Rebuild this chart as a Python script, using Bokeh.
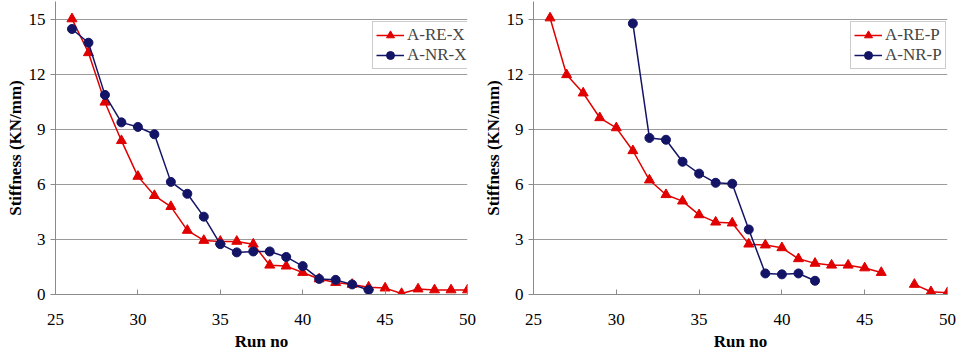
from bokeh.plotting import figure
from bokeh.layouts import row
from bokeh.models import Legend, LegendItem, FixedTicker
from bokeh.embed import file_html
from bokeh.resources import INLINE

nan = float("nan")

# Left chart
run_x = list(range(26, 51))
a_re_x = [15.05, 13.2, 10.5, 8.4, 6.45, 5.4, 4.8, 3.5, 2.95, 2.9, 2.9, 2.75, 1.6, 1.55,
          1.2, 0.85, 0.65, 0.55, 0.4, 0.35, 0.05, 0.3, 0.25, 0.25, 0.25]
run_nr_x = list(range(26, 45))
a_nr_x = [14.5, 13.75, 10.9, 9.4, 9.15, 8.75, 6.15, 5.5, 4.25, 2.75, 2.3, 2.35, 2.35,
          2.05, 1.55, 0.85, 0.8, 0.55, 0.25]

# Right chart
run_p = list(range(26, 51))
a_re_p = [15.1, 12.0, 11.0, 9.65, 9.1, 7.85, 6.25, 5.45, 5.1, 4.35, 3.95, 3.9, 2.75, 2.7,
          2.55, 1.95, 1.7, 1.6, 1.6, 1.45, 1.2, nan, 0.55, 0.15, 0.1]
run_nr_p = list(range(31, 43))
a_nr_p = [14.8, 8.55, 8.45, 7.25, 6.6, 6.1, 6.05, 3.55, 1.15, 1.1, 1.15, 0.75]

x_ticks = [25, 30, 35, 40, 45, 50]
y_ticks = [0, 3, 6, 9, 12, 15]

RED = "#E00000"
NAVY = "#141466"
FONT = "Liberation Serif"


def make_chart(xr, yr, xn, yn, lab_r, lab_n, width, border_right):
    p = figure(width=width, height=353, x_range=(25, 50), y_range=(0, 16),
               output_backend="svg", toolbar_location=None,
               min_border_left=55, min_border_right=border_right,
               min_border_top=1, min_border_bottom=59)
    p.outline_line_color = None
    p.background_fill_color = "white"
    p.border_fill_color = "white"

    p.xaxis.ticker = FixedTicker(ticks=x_ticks)
    p.yaxis.ticker = FixedTicker(ticks=y_ticks)
    p.xgrid.grid_line_color = None
    p.ygrid.grid_line_color = "#9a9a9a"
    p.ygrid.grid_line_width = 1

    p.axis.axis_line_color = "#8a8a8a"
    p.axis.major_tick_line_color = "#8a8a8a"
    p.axis.minor_tick_line_color = None
    p.axis.major_label_text_font = FONT
    p.axis.major_label_text_font_size = "17px"
    p.axis.major_label_text_color = "black"
    p.axis.axis_label_text_font = FONT
    p.axis.axis_label_text_font_style = "bold"
    p.axis.axis_label_text_font_size = "17px"
    p.axis.axis_label_text_color = "black"
    p.xaxis.major_tick_in = 5
    p.xaxis.major_tick_out = 0
    p.yaxis.major_tick_in = 0
    p.yaxis.major_tick_out = 5
    p.xaxis.major_label_standoff = 19
    p.yaxis.major_label_standoff = 5
    p.xaxis.axis_label = "Run no"
    p.yaxis.axis_label = "Stiffness (KN/mm)"
    p.xaxis.axis_label_standoff = 4
    p.yaxis.axis_label_standoff = 1

    lr = p.line(xr, yr, color=RED, line_width=1.5)
    sr = p.scatter(xr, yr, marker="triangle", size=10, color=RED)
    ln = p.line(xn, yn, color=NAVY, line_width=1.5)
    sn = p.scatter(xn, yn, marker="circle", size=9, color=NAVY)

    legend = Legend(items=[LegendItem(label=lab_r, renderers=[lr, sr]),
                           LegendItem(label=lab_n, renderers=[ln, sn])],
                    location=(317, 225))
    legend.label_text_font = FONT
    legend.label_text_font_size = "17px"
    legend.label_height = 20
    legend.glyph_height = 20
    legend.glyph_width = 28
    legend.label_standoff = 3
    legend.spacing = 0
    legend.padding = 3
    legend.margin = 0
    legend.border_line_color = "#9a9a9a"
    legend.border_line_width = 1
    legend.background_fill_alpha = 1
    p.add_layout(legend, "center")
    return p


p1 = make_chart(run_x, a_re_x, run_nr_x, a_nr_x, "A-RE-X", "A-NR-X", 478, 11)
p2 = make_chart(run_p, a_re_p, run_nr_p, a_nr_p, "A-RE-P", "A-NR-P", 479, 10)
layout = row(p1, p2, spacing=0)

open("out.html", "w").write(file_html(layout, INLINE))
